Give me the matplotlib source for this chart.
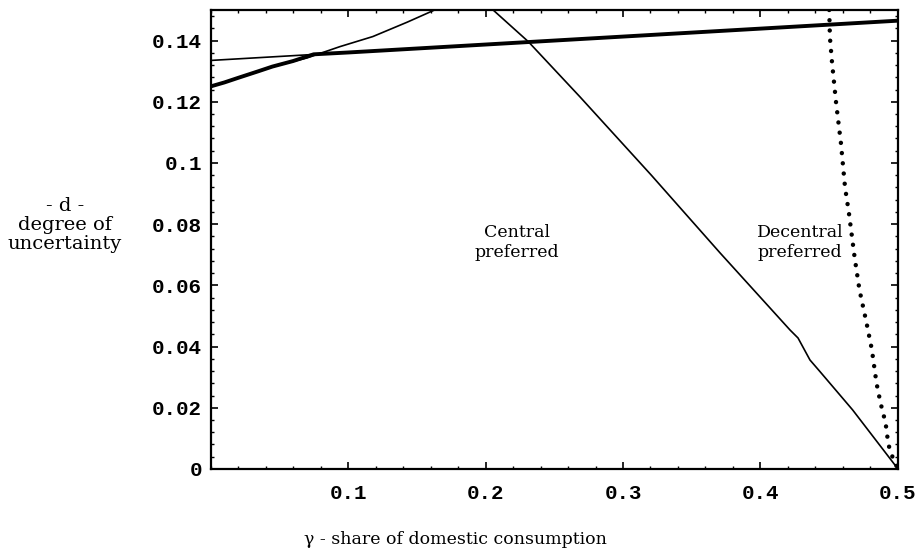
import matplotlib
matplotlib.use("Agg")
import matplotlib.pyplot as plt
from matplotlib.ticker import MultipleLocator, FixedLocator
import numpy as np

# ---- data ----
# thin straight line
straight_x = [0.0, 0.5]
straight_y = [0.1335, 0.1465]

# thick curve (lower envelope at left, then along the straight line)
thick_x = [0.0, 0.01, 0.02, 0.035, 0.045, 0.06, 0.075, 0.1, 0.2, 0.3, 0.4, 0.5]
thick_y = [0.125, 0.1263, 0.1278, 0.1300, 0.1315, 0.1333, 0.1355, 0.1361, 0.1387, 0.1413, 0.1439, 0.1465]

# thin boundary curve (rises, leaves the frame, comes back and falls to 0)
bound_x = [0.0, 0.02, 0.045, 0.07, 0.094, 0.118, 0.143, 0.163, 0.185, 0.2055,
           0.231, 0.2687, 0.3206, 0.3706, 0.4215, 0.4273, 0.436, 0.4433, 0.467, 0.5]
bound_y = [0.125, 0.1278, 0.1315, 0.1343, 0.138, 0.1413, 0.146, 0.150, 0.157, 0.150,
           0.1397, 0.1216, 0.0960, 0.0706, 0.0454, 0.0428, 0.0356, 0.0318, 0.0193, 0.0]

# dotted curve
dot_x = [0.45, 0.4505, 0.452, 0.455, 0.4585, 0.4615, 0.4643, 0.4685, 0.472, 0.477,
         0.481, 0.4844, 0.4873, 0.491, 0.493, 0.4967, 0.5]
dot_y = [0.15, 0.141, 0.133, 0.1196, 0.1065, 0.092, 0.0837, 0.069, 0.0585, 0.048,
         0.039, 0.028, 0.0216, 0.015, 0.008, 0.003, 0.0]

x_ticks = [0.1, 0.2, 0.3, 0.4, 0.5]
x_ticklabels = ["0.1", "0.2", "0.3", "0.4", "0.5"]
y_ticks = [0, 0.02, 0.04, 0.06, 0.08, 0.1, 0.12, 0.14]
y_ticklabels = ["0", "0.02", "0.04", "0.06", "0.08", "0.1", "0.12", "0.14"]

fig = plt.figure(figsize=(9.21, 5.53), dpi=100)
ax = fig.add_axes([0.2286, 0.152, 0.975 - 0.2286, 0.982 - 0.152])

ax.plot(straight_x, straight_y, color="black", lw=1.2, solid_capstyle="butt")
ax.plot(thick_x, thick_y, color="black", lw=2.8, solid_capstyle="butt")
ax.plot(bound_x, bound_y, color="black", lw=1.2)
ax.plot(dot_x, dot_y, color="black", lw=3.2, linestyle=(0, (0.01, 2.3)),
        dash_capstyle="round")

ax.set_xlim(0, 0.5)
ax.set_ylim(0, 0.15)

ax.xaxis.set_major_locator(FixedLocator(x_ticks))
ax.set_xticklabels(x_ticklabels)
ax.yaxis.set_major_locator(FixedLocator(y_ticks))
ax.set_yticklabels(y_ticklabels)
ax.xaxis.set_minor_locator(MultipleLocator(0.02))
ax.yaxis.set_minor_locator(MultipleLocator(0.004))

for lab in ax.get_xticklabels() + ax.get_yticklabels():
    lab.set_fontfamily("Liberation Mono")
    lab.set_fontweight("bold")
    lab.set_fontsize(15)

ax.tick_params(which="both", direction="in", top=True, right=True, color="black")
ax.tick_params(which="major", length=5, width=1.2)
ax.tick_params(which="minor", length=2.5, width=1.0)
ax.tick_params(axis="x", which="major", pad=11)
ax.tick_params(axis="y", which="major", pad=6)

for s in ax.spines.values():
    s.set_linewidth(1.6)
    s.set_color("black")

serif = "DejaVu Serif"
ax.text(0.223, 0.0739, "Central\npreferred", ha="center", va="center",
        family=serif, size=12.5, linespacing=1.25)
ax.text(0.4287, 0.0739, "Decentral\npreferred", ha="center", va="center",
        family=serif, size=12.5, linespacing=1.25)

fig.text(65 / 921, 1 - 225 / 553, "- d -\ndegree of\nuncertainty", ha="center",
         va="center", family=serif, size=14, linespacing=1.05)
fig.text(455 / 921, 1 - 540 / 553, "\u03b3 - share of domestic consumption",
         ha="center", va="center", family=serif, size=12.5)

fig.savefig("out.png", dpi=100)
